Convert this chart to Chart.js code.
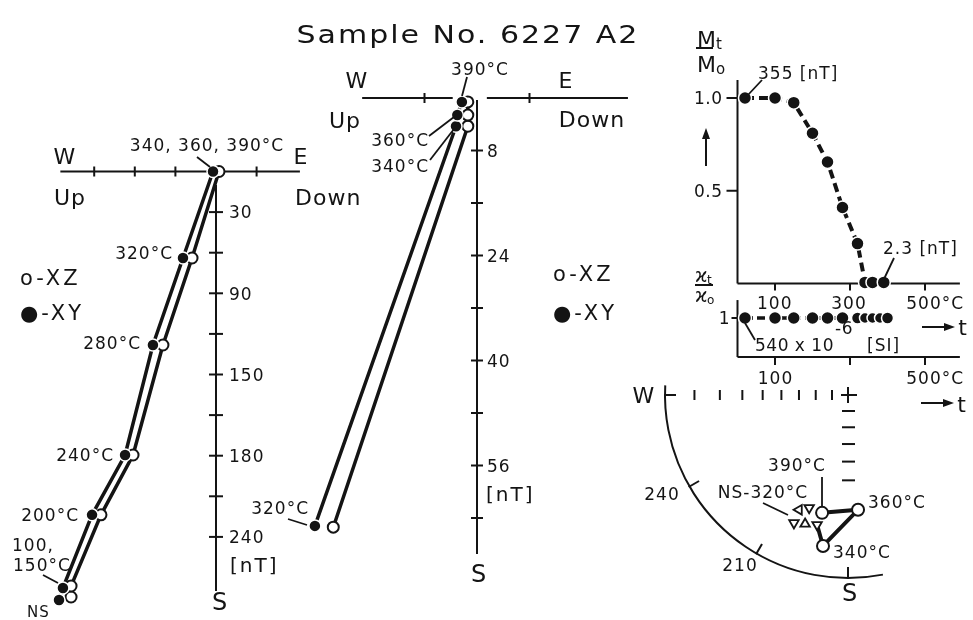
<!DOCTYPE html>
<html>
<head>
<meta charset="utf-8">
<script src="https://cdn.jsdelivr.net/npm/chart.js@4.4.1/dist/chart.umd.min.js"></script>
<style>
  html, body { margin: 0; padding: 0; background: #fff; }
  canvas { display: block; }
</style>
</head>
<body>
<canvas id="grafico" width="973" height="620"></canvas>
<script>
// ---- Painel 1: Zijderveld, amostra completa (nT) ----
const etapas1 = ['NS', '100/150', '200', '240', '280', '320', '340/360/390'];
const xyLeste1 = [-116.0, -113.1, -91.6, -67.2, -46.6, -24.4, -2.2];
const xySul1 = [316.6, 307.7, 253.7, 209.5, 128.2, 63.9, 0];
const xzVert1 = [-107.1, -107.1, -85.0, -61.3, -39.2, -17.7, 2.2];
const xzSul1 = [314.4, 306.3, 253.7, 209.5, 128.2, 63.9, 0];
const ticksLeste1 = [-90, -60, -30, 30];
const ticksSul1 = [30, 60, 90, 120, 150, 180, 210, 240, 270];
const rotulosSul1 = ['30', '', '90', '', '150', '', '180', '', '240'];

// ---- Painel 2: Zijderveld, 320-390 °C (nT) ----
const etapas2 = ['320', '340', '360', '390'];
const xyLeste2 = [-24.7, -3.2, -3.0, -2.3];
const xySul2 = [65.2, 4.3, 2.6, 0.6];
const xzVert2 = [-21.9, -1.4, -1.4, -1.4];
const xzSul2 = [65.4, 4.3, 2.6, 0.6];
const ticksLeste2 = [-8, 8];
const ticksSul2 = [8, 16, 24, 32, 40, 48, 56, 64];
const rotulosSul2 = ['8', '', '24', '', '40', '', '56', ''];

// ---- Painel 3: Mt/Mo ----
const temperaturasM = [20, 100, 150, 200, 240, 280, 320, 340, 360, 390];
const razaoM = [1.0, 1.0, 0.975, 0.81, 0.655, 0.41, 0.215, 0.006, 0.006, 0.006];
const ticksT = [100, 300, 500];
const rotulosT = ['100', '300', '500°C'];
const ticksRazao = [1.0, 0.5];
const rotulosRazao = ['1.0', '0.5'];

// ---- Painel 4: susceptibilidade kt/ko ----
const temperaturasK = [20, 100, 150, 200, 240, 280, 320, 340, 360, 380, 400];
const razaoK = [1, 1, 1, 1, 1, 1, 1, 1, 1, 1, 1];
const rotulosTK = ['100', '', '500°C'];

// ---- Painel 5: estereograma (declinacao, inclinacao) ----
const etapasTri = ['NS', '100', '150', '200', '240-320'];
const decTri = [203.1, 199.0, 202.9, 198.4, 193.4];
const incTri = [21.4, 23.8, 15.6, 16.8, 17.8];
const etapasCirc = ['340', '360', '390'];
const decCirc = [189.4, 175.0, 192.4];
const incCirc = [-10.2, -25.6, -23.2];
const ticksInclW = [10, 20, 30, 40, 50, 60, 70, 80];
const ticksInclS = [40, 50, 60, 70, 80];
const ticksDecl = [240, 210, 180];

const W = 973, H = 620;
const tinta = '#141414';
const rad = Math.PI / 180;

function escalaX(p0, k) { return { type: 'linear', display: false, min: -p0 * k, max: (W - p0) * k }; }
function escalaYDesce(p0, k) { return { type: 'linear', display: false, reverse: true, min: -p0 * k, max: (H - p0) * k }; }
function escalaYSobe(p0, k) { return { type: 'linear', display: false, min: (p0 - H) * k, max: p0 * k }; }

function serie(xs, ys) { return xs.map((x, i) => ({ x: x, y: ys[i] })); }
// projecao de Wulff (igual angulo)
function proj(dec, inc) {
    const r = Math.tan((90 - Math.abs(inc)) / 2 * rad);
    return { x: r * Math.sin(dec * rad), y: r * Math.cos(dec * rad) };
}

function linhaDs(dados, ex, ey, extra) {
    return Object.assign({ data: dados, xAxisID: ex, yAxisID: ey, showLine: true, pointRadius: 0,
        borderColor: tinta, borderWidth: 3.5, order: 10 }, extra || {});
}
function pontosDs(dados, ex, ey, cheio, extra) {
    return Object.assign({ data: dados, xAxisID: ex, yAxisID: ey, showLine: false,
        pointRadius: cheio ? 6 : 5.5,
        pointBackgroundColor: cheio ? tinta : '#fff',
        pointBorderColor: cheio ? '#fff' : tinta,
        pointBorderWidth: cheio ? 1.5 : 2,
        order: cheio ? 1 : 5 }, extra || {});
}

function linha(ctx, x1, y1, x2, y2, w) {
    ctx.lineWidth = w || 2;
    ctx.beginPath();
    ctx.moveTo(x1, y1);
    ctx.lineTo(x2, y2);
    ctx.stroke();
}
function texto(ctx, s, x, y, tam, alinh, esp) {
    ctx.font = tam + 'px "DejaVu Sans"';
    ctx.letterSpacing = (esp === undefined ? 1 : esp) + 'px';
    ctx.textAlign = alinh || 'left';
    ctx.textBaseline = 'alphabetic';
    ctx.fillText(s, x, y + 0.365 * tam);
}
function seta(ctx, x1, y1, x2, y2) {
    const a = Math.atan2(y2 - y1, x2 - x1);
    linha(ctx, x1, y1, x2 - 8 * Math.cos(a), y2 - 8 * Math.sin(a), 2);
    ctx.beginPath();
    ctx.moveTo(x2, y2);
    ctx.lineTo(x2 - 11 * Math.cos(a) + 4 * Math.sin(a), y2 - 11 * Math.sin(a) - 4 * Math.cos(a));
    ctx.lineTo(x2 - 11 * Math.cos(a) - 4 * Math.sin(a), y2 - 11 * Math.sin(a) + 4 * Math.cos(a));
    ctx.closePath();
    ctx.fill();
}

// textos soltos (posicao do centro das maiusculas)
const rotulos = [
    ['W', 65, 156, 22, 'center'], ['E', 301, 156, 22, 'center'],
    ['Up', 70, 197, 22, 'center'], ['Down', 295, 197, 22, 'left'],
    ['340, 360, 390°C', 207, 145, 17, 'center'],
    ['320°C', 173, 253, 17, 'right'], ['280°C', 141, 343, 17, 'right'],
    ['240°C', 114, 455, 17, 'right'], ['200°C', 79, 515, 17, 'right'],
    ['100,', 12, 545, 17, 'left'], ['150°C', 13, 565, 17, 'left'],
    ['NS', 27, 612, 15, 'left'],
    ['o-XZ', 20, 277, 21, 'left', 3], ['●-XY', 20, 312, 21, 'left', 3],
    ['[nT]', 230, 565, 20, 'left', 2], ['S', 220, 601, 24, 'center'],

    ['W', 357, 80, 22, 'center'], ['E', 566, 80, 22, 'center'],
    ['Up', 345, 120, 22, 'center'], ['Down', 592, 119, 22, 'center'],
    ['390°C', 480, 69, 17, 'center'], ['360°C', 429, 140, 17, 'right'],
    ['340°C', 429, 166, 17, 'right'], ['320°C', 309, 508, 17, 'right'],
    ['o-XZ', 553, 273, 21, 'left', 3], ['●-XY', 553, 312, 21, 'left', 3],
    ['[nT]', 486, 494, 20, 'left', 2], ['S', 479, 573, 24, 'center'],

    ['355 [nT]', 758, 73, 17, 'left'], ['2.3 [nT]', 883, 248, 17, 'left'],
    ['540 x 10', 755, 345, 17, 'left', 0.5], ['-6', 835, 328, 17, 'left', 0.5],
    ['[SI]', 867, 345, 17, 'left'],
    ['t', 963, 327, 22, 'center'], ['t', 962, 404, 22, 'center'],

    ['W', 644, 395, 22, 'center'],
    ['390°C', 797, 465, 17, 'center'], ['NS-320°C', 763, 492, 17, 'center'],
    ['360°C', 868, 502, 17, 'left'], ['340°C', 833, 552, 17, 'left'],
    ['240', 662, 494, 17, 'center'], ['210', 740, 565, 17, 'center'],
    ['S', 850, 592, 24, 'center']
];
// linhas de chamada
const chamadas = [
    [197, 157, 210, 167], [43, 575, 58, 583],
    [462, 96, 467, 77], [429, 136, 454, 117], [430, 160, 454, 129], [288, 519, 307, 525],
    [747, 96, 762, 80], [884, 279, 894, 258], [745, 323, 755, 340],
    [822, 507, 822, 477], [763, 503, 788, 515]
];

const desenhoEixos = {
    id: 'desenhoEixos',
    beforeDatasetsDraw(chart) {
        const ctx = chart.ctx, s = chart.scales;
        ctx.save();
        ctx.strokeStyle = tinta;
        ctx.fillStyle = tinta;

        // painel 1
        const X1 = v => s.x1.getPixelForValue(v), Y1 = v => s.y1.getPixelForValue(v);
        linha(ctx, X1(-115), Y1(0), X1(62), Y1(0));
        linha(ctx, X1(0), Y1(10), X1(0), Y1(310));
        ticksLeste1.forEach(v => linha(ctx, X1(v), Y1(0) - 5, X1(v), Y1(0) + 5));
        ticksSul1.forEach((v, i) => {
            linha(ctx, X1(0) - 7, Y1(v), X1(0) + 7, Y1(v));
            if (rotulosSul1[i]) texto(ctx, rotulosSul1[i], X1(0) + 13, Y1(v), 17);
        });

        // painel 2
        const X2 = v => s.x2.getPixelForValue(v), Y2 = v => s.y2.getPixelForValue(v);
        linha(ctx, X2(-17.5), Y2(0), X2(-3.7), Y2(0));
        linha(ctx, X2(1.5), Y2(0), X2(23), Y2(0));
        linha(ctx, X2(0), Y2(0.3), X2(0), Y2(69.5));
        ticksLeste2.forEach(v => linha(ctx, X2(v), Y2(0) - 5, X2(v), Y2(0) + 5));
        ticksSul2.forEach((v, i) => {
            linha(ctx, X2(0) - 6, Y2(v), X2(0) + 6, Y2(v));
            if (rotulosSul2[i]) texto(ctx, rotulosSul2[i], X2(0) + 10, Y2(v), 17);
        });

        // painel 3
        const X3 = v => s.x3.getPixelForValue(v), Y3 = v => s.y3.getPixelForValue(v);
        linha(ctx, X3(0), Y3(0), X3(593), Y3(0));
        linha(ctx, X3(0), Y3(0), X3(0), Y3(1.097));
        ticksRazao.forEach((v, i) => {
            linha(ctx, X3(0) - 11, Y3(v), X3(0), Y3(v));
            texto(ctx, rotulosRazao[i], X3(0) - 15, Y3(v), 17, 'right', 0.5);
        });
        ticksT.forEach((v, i) => {
            linha(ctx, X3(v), Y3(0), X3(v), Y3(0) + 7);
            ctx.font = '17px "DejaVu Sans"';
            const w = ctx.measureText(rotulosT[i].replace('°C', '')).width;
            texto(ctx, rotulosT[i], X3(v) - w / 2 - 1, Y3(0) + 19, 17, 'left', 1);
        });

        // painel 4
        const Y4 = v => s.y4.getPixelForValue(v);
        linha(ctx, X3(0), Y4(0), X3(593), Y4(0));
        linha(ctx, X3(0), Y4(0), X3(0), Y4(1.46));
        linha(ctx, X3(0) - 6, Y4(1), X3(0), Y4(1));
        texto(ctx, '1', X3(0) - 8, Y4(1), 17, 'right', 0);
        ticksT.forEach((v, i) => {
            linha(ctx, X3(v), Y4(0), X3(v), Y4(0) + 8);
            if (rotulosTK[i]) {
                ctx.font = '17px "DejaVu Sans"';
                const w = ctx.measureText(rotulosTK[i].replace('°C', '')).width;
                texto(ctx, rotulosTK[i], X3(v) - w / 2 - 1, Y4(0) + 21, 17, 'left', 1);
            }
        });

        // painel 5: estereograma
        const X5 = v => s.x5.getPixelForValue(v), Y5 = v => s.y5.getPixelForValue(v);
        const cx = X5(0), cy = Y5(0), R = X5(1) - cx;
        ctx.lineWidth = 2;
        ctx.beginPath();
        ctx.arc(cx, cy, R, 79 * rad, 183 * rad);
        ctx.stroke();
        ticksDecl.concat([270]).forEach(d => {
            const ux = Math.sin(d * rad), uy = -Math.cos(d * rad);
            linha(ctx, cx + ux * (R + 1), cy + uy * (R + 1), cx + ux * (R - 11), cy + uy * (R - 11));
        });
        ticksInclW.forEach(I => {
            const x = X5(-Math.tan((90 - I) / 2 * rad));
            linha(ctx, x, cy - 5, x, cy + 5);
        });
        ticksInclS.forEach(I => {
            const y = Y5(-Math.tan((90 - I) / 2 * rad));
            linha(ctx, cx - 6, y, cx + 7, y);
        });
        linha(ctx, cx - 7, cy, cx + 9, cy);
        linha(ctx, cx, cy - 8, cx, cy + 8);
        ctx.restore();
    },
    afterDatasetsDraw(chart) {
        const ctx = chart.ctx;
        ctx.save();
        ctx.strokeStyle = tinta;
        ctx.fillStyle = tinta;

        // titulo, esticado na horizontal como o letreiro original
        ctx.save();
        ctx.translate(468, 0);
        ctx.scale(1.25, 1);
        texto(ctx, 'Sample No. 6227 A2', 0, 34, 24, 'center', 1.6);
        ctx.restore();

        rotulos.forEach(r => texto(ctx, r[0], r[1], r[2], r[3], r[4], r[5]));
        chamadas.forEach(c => linha(ctx, c[0], c[1], c[2], c[3], 1.8));

        // Mt / Mo
        texto(ctx, 'M', 697, 39, 22, 'left', 0);
        texto(ctx, 't', 716, 44, 15, 'left', 0);
        linha(ctx, 696, 48, 713, 48, 2);
        texto(ctx, 'M', 697, 64, 22, 'left', 0);
        texto(ctx, 'o', 716, 69, 15, 'left', 0);
        seta(ctx, 706, 166, 706, 128);

        // kt / ko
        texto(ctx, 'ϰ', 695, 275, 19, 'left', 0);
        texto(ctx, 't', 707, 280, 12, 'left', 0);
        linha(ctx, 695, 285, 713, 285, 2);
        texto(ctx, 'ϰ', 695, 295, 19, 'left', 0);
        texto(ctx, 'o', 707, 300, 12, 'left', 0);

        seta(ctx, 922, 327, 955, 327);
        seta(ctx, 921, 403, 954, 403);
        ctx.restore();
    }
};

const pontosTri = decTri.map((d, i) => proj(d, incTri[i]));
const pontosCirc = decCirc.map((d, i) => proj(d, incCirc[i]));
const caminho = [pontosTri[pontosTri.length - 1]].concat(pontosCirc);

new Chart(document.getElementById('grafico'), {
    type: 'scatter',
    data: {
        datasets: [
            linhaDs(serie(xzVert1, xzSul1), 'x1', 'y1'),
            linhaDs(serie(xyLeste1, xySul1), 'x1', 'y1'),
            pontosDs(serie(xzVert1, xzSul1), 'x1', 'y1', false),
            pontosDs(serie(xyLeste1, xySul1), 'x1', 'y1', true),

            linhaDs(serie(xzVert2, xzSul2), 'x2', 'y2'),
            linhaDs(serie(xyLeste2, xySul2), 'x2', 'y2'),
            pontosDs(serie(xzVert2, xzSul2), 'x2', 'y2', false),
            pontosDs(serie(xyLeste2, xySul2), 'x2', 'y2', true),

            linhaDs(serie(temperaturasM, razaoM), 'x3', 'y3', { borderWidth: 4, borderDash: [9, 5] }),
            pontosDs(serie(temperaturasM, razaoM), 'x3', 'y3', true, { pointRadius: 6.5 }),

            linhaDs(serie(temperaturasK, razaoK), 'x3', 'y4', { borderWidth: 3.5, borderDash: [8, 4] }),
            pontosDs(serie(temperaturasK, razaoK), 'x3', 'y4', true,
                { pointRadius: [6.5, 6.5, 6.5, 6.5, 6.5, 6.5, 6, 5.5, 5.5, 5.5, 6] }),

            linhaDs(caminho, 'x5', 'y5', { borderWidth: 4 }),
            pontosDs(pontosTri, 'x5', 'y5', false,
                { pointStyle: 'triangle', pointRadius: 5.5, pointBorderWidth: 1.8,
                  pointRotation: [270, 180, 180, 0, 180] }),
            pontosDs(pontosCirc, 'x5', 'y5', false, { pointRadius: 6, order: 1 })
        ]
    },
    options: {
        responsive: false,
        animation: false,
        events: [],
        layout: { autoPadding: false, padding: 0 },
        plugins: { legend: { display: false }, tooltip: { enabled: false } },
        scales: {
            x1: escalaX(216, 30 / 40.6), y1: escalaYDesce(171.5, 30 / 40.6),
            x2: escalaX(477, 8 / 52.5), y2: escalaYDesce(98, 8 / 52.5),
            x3: escalaX(737.5, 1 / 0.375), y3: escalaYSobe(283.5, 1 / 185.5),
            y4: escalaYSobe(357, 1 / 39),
            x5: escalaX(848, 1 / 183), y5: escalaYSobe(395, 1 / 183)
        }
    },
    plugins: [desenhoEixos]
});
</script>
</body>
</html>
